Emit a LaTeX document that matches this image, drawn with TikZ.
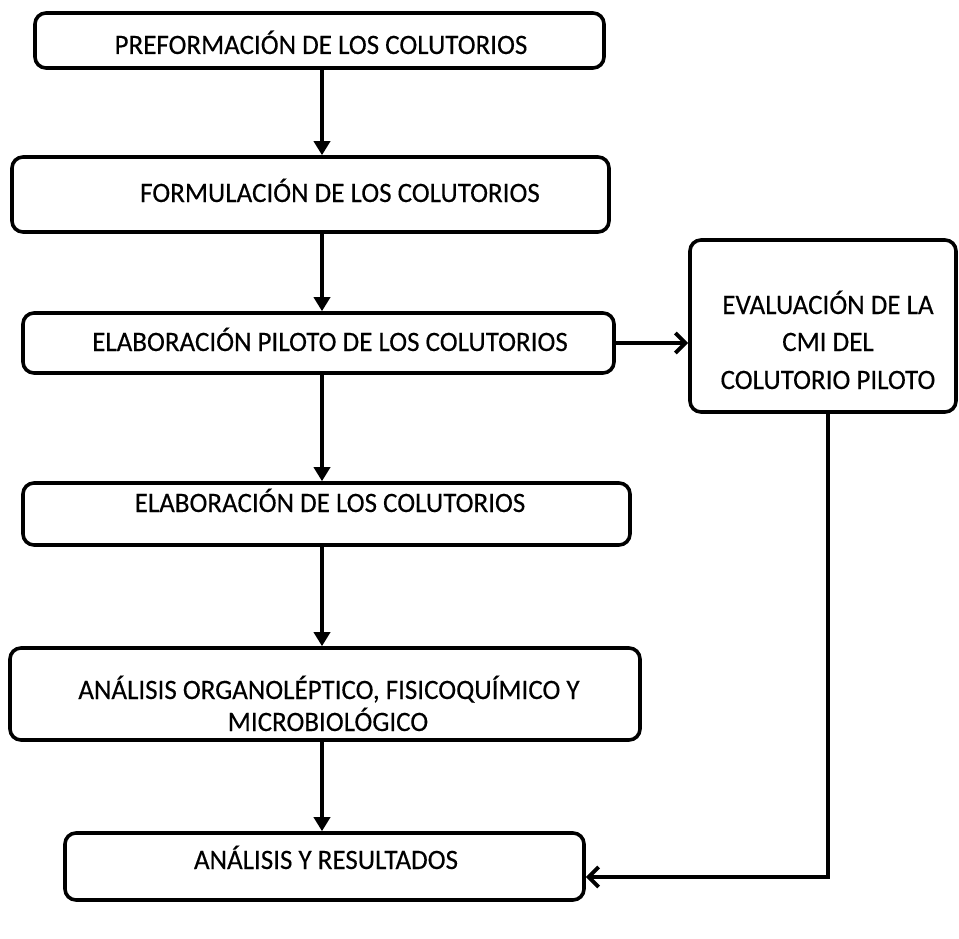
\documentclass[tikz,border=0pt]{standalone}
\usepackage{fontspec}
\setmainfont[FakeBold=0.3]{Carlito}
\usetikzlibrary{arrows.meta}
\begin{document}
\begin{tikzpicture}[x=1pt,y=-1pt,
  box/.style={draw, line width=3.6pt, rounded corners=11pt, inner sep=0pt},
  lbl/.style={font=\fontsize{27}{37}\selectfont, inner sep=0pt, anchor=base, yscale=1.04},
  arr/.style={line width=4pt, -{Triangle[length=14pt,width=16pt]}},
  barb/.style={line width=4pt, -{Straight Barb[length=10pt,width=20pt,line width=4pt]}}]
\useasboundingbox (0,0) rectangle (959,939);
% boxes
\node[box, minimum width=569pt, minimum height=55pt] (b1) at (319.5,40.5) {};
\node[box, minimum width=597pt, minimum height=75pt] (b2) at (310.5,194.5) {};
\node[box, minimum width=591pt, minimum height=60pt] (b3) at (318.5,343) {};
\node[box, minimum width=266pt, minimum height=172pt] (b4) at (823,326) {};
\node[box, minimum width=607pt, minimum height=62pt] (b5) at (326.5,514) {};
\node[box, minimum width=630pt, minimum height=92pt] (b6) at (325,694) {};
\node[box, minimum width=519pt, minimum height=67pt] (b7) at (324.5,866.5) {};
% labels
\node[lbl] (t1) at (321,54) {PREFORMACIÓN DE LOS COLUTORIOS};
\node[lbl] (t2) at (340,202) {FORMULACIÓN DE LOS COLUTORIOS};
\node[lbl] (t3) at (330,351) {ELABORACIÓN PILOTO DE LOS COLUTORIOS};
\node[lbl] (t4a) at (828,314) {EVALUACIÓN DE LA};
\node[lbl] (t4b) at (828,351) {CMI DEL};
\node[lbl] (t4c) at (828,389) {COLUTORIO PILOTO};
\node[lbl] (t5) at (330,512) {ELABORACIÓN DE LOS COLUTORIOS};
\node[lbl] (t6a) at (329,699) {ANÁLISIS ORGANOLÉPTICO, FISICOQUÍMICO Y};
\node[lbl] (t6b) at (328,731) {MICROBIOLÓGICO};
\node[lbl] (t7) at (326,869) {ANÁLISIS Y RESULTADOS};
% connectors
\coordinate (ax) at (322,0);
\coordinate (fb) at (828,877);
\draw[arr] (ax |- b1.south) -- (ax |- b2.north);
\draw[arr] (ax |- b2.south) -- (ax |- b3.north);
\draw[arr] (ax |- b3.south) -- (ax |- b5.north);
\draw[arr] (ax |- b5.south) -- (ax |- b6.north);
\draw[arr] (ax |- b6.south) -- (ax |- b7.north);
\draw[barb] (b3.east) -- (b4.west |- b3.east);
\draw[barb] (fb |- b4.south) -- (fb) -- (b7.east |- fb);
\end{tikzpicture}
\end{document}
